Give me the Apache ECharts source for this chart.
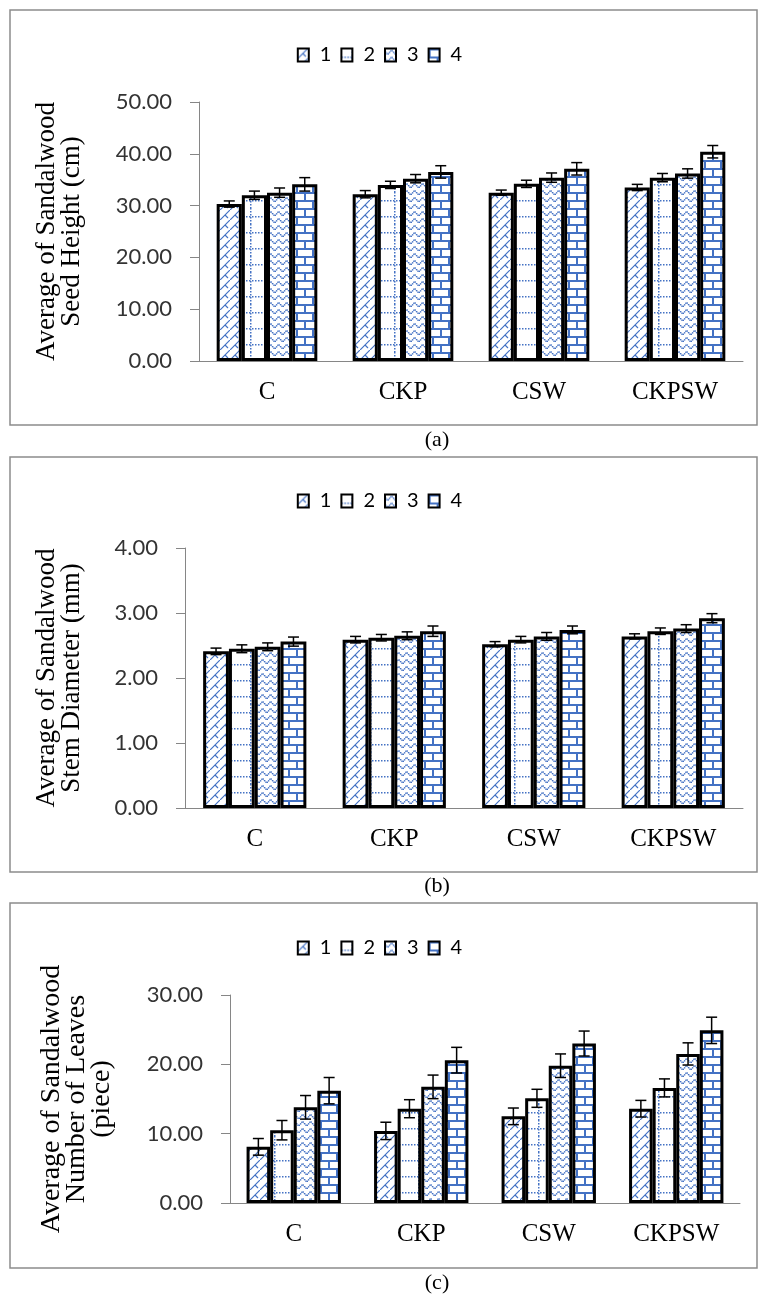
<!DOCTYPE html>
<html>
<head>
<meta charset="utf-8">
<script src="https://cdn.jsdelivr.net/npm/echarts@6/dist/echarts.min.js"></script>
<style>
  html, body { margin: 0; padding: 0; background: #fff; }
  #chart { width: 759px; height: 1295px; }
</style>
</head>
<body>
<div id="chart"></div>
<script>
const categories = ['C', 'CKP', 'CSW', 'CKPSW']
const seriesNames = ['1', '2', '3', '4']

// (a) seed height (cm), one row per series
const heightMean = [
  [30.3, 32.2, 32.5, 33.5],
  [32.0, 34.0, 34.2, 35.4],
  [32.5, 35.2, 35.4, 36.2],
  [34.1, 36.5, 37.1, 40.4]
]
const heightErr = [
  [0.6, 0.7, 0.5, 0.6],
  [0.8, 0.7, 0.7, 0.8],
  [0.9, 0.8, 0.9, 0.9],
  [1.3, 1.2, 1.2, 1.2]
]

// (b) stem diameter (mm)
const diameterMean = [
  [2.41, 2.59, 2.52, 2.64],
  [2.45, 2.62, 2.59, 2.72],
  [2.48, 2.65, 2.64, 2.76],
  [2.56, 2.72, 2.74, 2.92]
]
const diameterErr = [
  [0.05, 0.05, 0.04, 0.04],
  [0.06, 0.05, 0.05, 0.05],
  [0.06, 0.06, 0.06, 0.06],
  [0.07, 0.08, 0.06, 0.07]
]

// (c) number of leaves (piece)
const leavesMean = [
  [8.1, 10.4, 12.5, 13.6],
  [10.5, 13.6, 15.1, 16.6],
  [13.8, 16.75, 19.8, 21.5],
  [16.2, 20.6, 23.0, 24.9]
]
const leavesErr = [
  [1.2, 1.25, 1.2, 1.2],
  [1.4, 1.3, 1.3, 1.3],
  [1.7, 1.7, 1.7, 1.6],
  [1.9, 1.85, 1.8, 1.9]
]

const BLUE = '#4472C4'
const GAP = 0.26

// pattern tiles
function tile (w, h, draw) {
  let c = document.createElement('canvas')
  c.width = w
  c.height = h
  let ctx = c.getContext('2d')
  ctx.fillStyle = '#fff'
  ctx.fillRect(0, 0, w, h)
  ctx.strokeStyle = BLUE
  ctx.fillStyle = BLUE
  draw(ctx)
  return c
}

// diagonal zig-zag lattice
const patWeave = tile(10, 10, ctx => {
  ctx.lineWidth = 1.2
  ctx.beginPath()
  ctx.moveTo(0, 10); ctx.lineTo(10, 0)
  ctx.moveTo(5, 5); ctx.lineTo(8, 8)
  ctx.stroke()
})
const patDotGrid = tile(24, 16, ctx => {
  for (let y = 0; y < 16; y += 3) ctx.fillRect(10, y, 1.5, 1.5)
  for (let x = 0; x < 24; x += 3) ctx.fillRect(x, 8, 1.5, 1.5)
})
const patWave = tile(8, 7, ctx => {
  for (let x = 0; x < 8; x += 1.3) {
    let y = 3 + 1.8 * Math.sin(2 * Math.PI * x / 8)
    ctx.fillRect(x, y, 1.4, 1.4)
  }
})
const patBrick = tile(16, 16, ctx => {
  ctx.fillRect(0, 0, 16, 2)
  ctx.fillRect(0, 8, 16, 2)
  ctx.fillRect(0, 0, 2, 8)
  ctx.fillRect(8, 8, 2, 8)
})
const patterns = [patWeave, patDotGrid, patWave, patBrick]

const font = 'Lato'
const serif = '"Liberation Serif", "Times New Roman", serif'

let panels = [
  { mean: heightMean, err: heightErr, max: 50, interval: 10, name: 'Average of Sandalwood\nSeed Height (cm)',
    grid: { left: 199, width: 544, top: 102, height: 259 }, legendTop: 40, nameGap: 115, nameSize: 27 },
  { mean: diameterMean, err: diameterErr, max: 4, interval: 1, name: 'Average of Sandalwood\nStem Diameter (mm)',
    grid: { left: 185, width: 558, top: 548, height: 260 }, legendTop: 486, nameGap: 101, nameSize: 27 },
  { mean: leavesMean, err: leavesErr, max: 30, interval: 10, name: 'Average of Sandalwood\nNumber of Leaves\n(piece)',
    grid: { left: 230, width: 510, top: 995, height: 208 }, legendTop: 933, nameGap: 116, nameSize: 28 }
]

let grids = [], xAxes = [], yAxes = [], legends = [], series = []

panels.forEach((p, k) => {
  grids.push(p.grid)
  xAxes.push({
    type: 'category', gridIndex: k, data: categories,
    axisLine: { lineStyle: { color: '#868686', width: 1 } },
    axisTick: { length: 7, lineStyle: { color: '#868686' } },
    axisLabel: { color: '#000', fontFamily: serif, fontSize: 25, margin: 19 }
  })
  yAxes.push({
    type: 'value', gridIndex: k, min: 0, max: p.max, interval: p.interval,
    name: p.name, nameLocation: 'middle', nameGap: p.nameGap,
    nameTextStyle: { color: '#000', fontFamily: serif, fontSize: p.nameSize, lineHeight: 25 },
    axisLine: { show: true, lineStyle: { color: '#868686', width: 1 } },
    axisTick: { show: true, length: 9, lineStyle: { color: '#868686' } },
    axisLabel: { color: '#333', fontFamily: font, fontSize: 22, margin: 27,
      formatter: v => v.toFixed(2) },
    splitLine: { show: false }
  })
  legends.push({
    top: p.legendTop, left: 'center', data: seriesNames,
    itemWidth: 11, itemHeight: 13, itemGap: 9, icon: 'rect',
    itemStyle: { borderColor: '#000', borderWidth: 2 },
    textStyle: { color: '#000', fontFamily: font, fontSize: 20, padding: [0, 0, 0, 6] }
  })
  seriesNames.forEach((nm, si) => {
    series.push({
      name: nm, type: 'bar', xAxisIndex: k, yAxisIndex: k,
      data: p.mean[si],
      barGap: '0%', barCategoryGap: (GAP * 100) + '%',
      itemStyle: { color: { image: patterns[si], repeat: 'repeat' }, borderColor: '#000', borderWidth: 3 },
      emphasis: { disabled: true }
    })
  })
  let errData = []
  p.mean.forEach((row, si) => {
    row.forEach((v, ci) => errData.push([ci, si, v, p.err[si][ci]]))
  })
  series.push({
    type: 'custom', xAxisIndex: k, yAxisIndex: k, z: 5,
    data: errData,
    encode: { x: 0, y: 2 },
    renderItem: (params, api) => {
      let ci = api.value(0), si = api.value(1), v = api.value(2), e = api.value(3)
      let catW = api.size([1, 0])[0]
      let bw = catW * (1 - GAP) / 4
      let cx = api.coord([ci, v])[0] - catW * (1 - GAP) / 2 + bw * (si + 0.5)
      let yTop = api.coord([ci, v + e])[1]
      let yBot = api.coord([ci, v - e])[1]
      let style = { stroke: '#000', lineWidth: 1.5 }
      return {
        type: 'group',
        children: [
          { type: 'line', shape: { x1: cx, y1: yTop, x2: cx, y2: yBot }, style: style },
          { type: 'line', shape: { x1: cx - 5.5, y1: yTop, x2: cx + 5.5, y2: yTop }, style: style },
          { type: 'line', shape: { x1: cx - 5.5, y1: yBot, x2: cx + 5.5, y2: yBot }, style: style }
        ]
      }
    }
  })
})

let boxStyle = { fill: 'none', stroke: '#8c8c8c', lineWidth: 1.5 }
let capStyle = { fill: '#000', font: '22px ' + serif, textAlign: 'center', textVerticalAlign: 'middle' }
let graphic = [
  { type: 'rect', shape: { x: 10, y: 10, width: 747, height: 415 }, style: boxStyle, silent: true },
  { type: 'rect', shape: { x: 10, y: 457, width: 747, height: 415 }, style: boxStyle, silent: true },
  { type: 'rect', shape: { x: 10, y: 903, width: 747, height: 365 }, style: boxStyle, silent: true },
  { type: 'text', x: 437, y: 440, style: Object.assign({ text: '(a)' }, capStyle) },
  { type: 'text', x: 437, y: 886, style: Object.assign({ text: '(b)' }, capStyle) },
  { type: 'text', x: 437, y: 1283, style: Object.assign({ text: '(c)' }, capStyle) }
]

let myChart = echarts.init(document.getElementById('chart'))
let option = {
  backgroundColor: '#fff',
  animation: false,
  grid: grids,
  xAxis: xAxes,
  yAxis: yAxes,
  legend: legends,
  series: series,
  graphic: graphic
}
myChart.setOption(option)
</script>
</body>
</html>
